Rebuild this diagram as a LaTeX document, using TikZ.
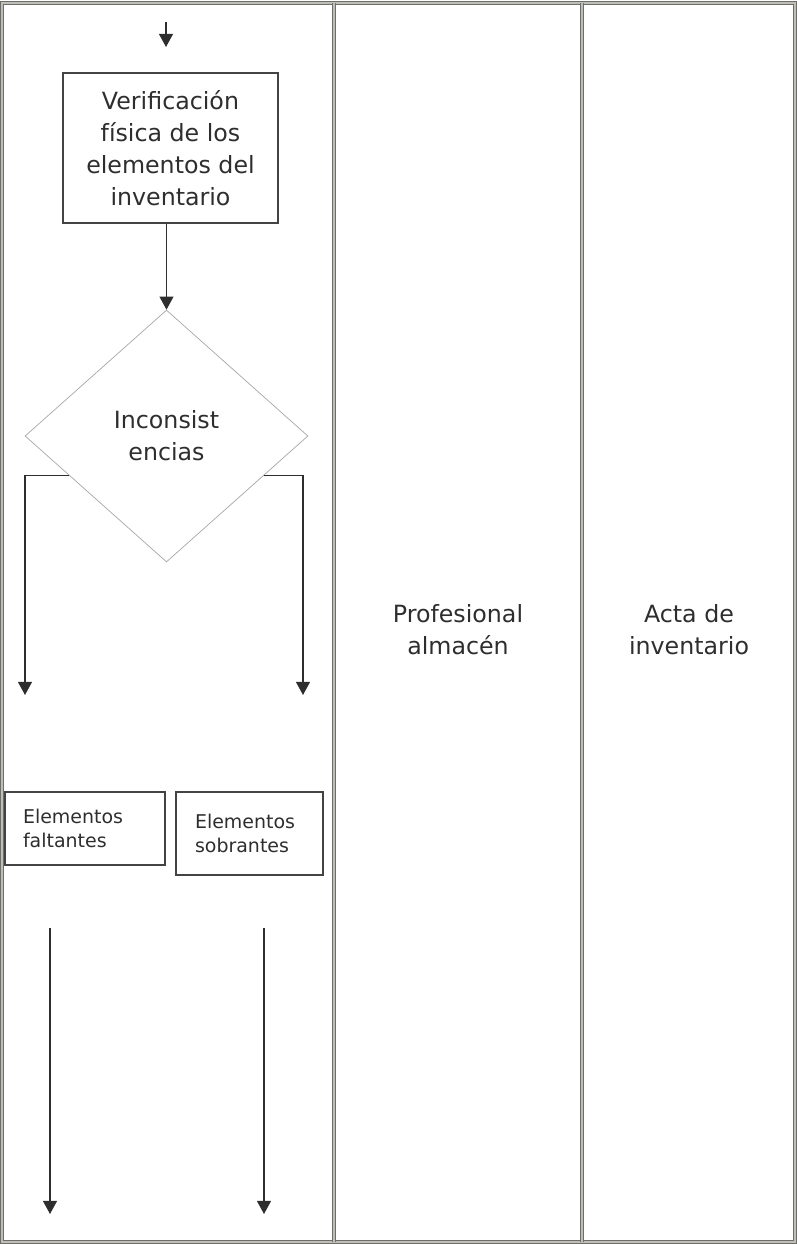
\documentclass[tikz,border=0pt]{standalone}
\usepackage{fontspec}
\setmainfont{DejaVu Sans}
\usetikzlibrary{shapes.geometric,arrows.meta}
\definecolor{ink}{HTML}{2E2E2E}
\definecolor{rule}{HTML}{6E6E66}
\begin{document}
\begin{tikzpicture}[x=0.02cm, y=-0.02cm,
  every node/.style={text=ink},
  big/.style={font=\fontsize{13.5}{18.1}\selectfont},
  small/.style={font=\fontsize{10.8}{13.6}\selectfont},
  box/.style={draw=ink!90, line width=0.6pt},
  arr/.style={draw=ink, line width=0.65pt, -{Triangle[width=8pt,length=7.5pt]}},
  lane/.style={draw=rule, line width=0.6pt, double=rule!45, double distance=0.6pt}]
\useasboundingbox (0,0) rectangle (797,1244);
% lanes
\draw[lane] (2,3) rectangle (795,1242);
\draw[lane] (334,3) -- (334,1242);
\draw[lane] (582,3) -- (582,1242);
% flow
\coordinate (in0) at (166,22);
\coordinate (in1) at (166,47);
\draw[arr] (in0) -- (in1);
\node[big, box, minimum width=4.3cm, minimum height=3cm, align=center] (verif) at (170.5,148) {Verificación\\física de los\\elementos del\\inventario};
\node[big, diamond, draw=gray!70, line width=0.4pt, minimum width=5.66cm, minimum height=5.04cm, inner sep=0pt, align=center] (incons) at (166.5,436) {Inconsist\\encias};
\draw[arr] (verif.south -| incons.north) -- (incons.north);
\coordinate (lfa) at (25,695);
\coordinate (rfa) at (303,695);
\draw[arr] (incons.202) -| (lfa);
\draw[arr] (incons.338) -| (rfa);
\node[small, box, text width=2.48cm, inner xsep=0.36cm, minimum height=1.46cm, align=left] (falt) at (85,828.5) {Elementos\\faltantes};
\node[small, box, text width=2.18cm, inner xsep=0.38cm, minimum height=1.66cm, align=left] (sobr) at (249.5,833.5) {Elementos\\sobrantes};
\coordinate (fa0) at (50,928);
\coordinate (fa1) at (50,1214);
\coordinate (so0) at (264,928);
\coordinate (so1) at (264,1214);
\draw[arr] (fa0) -- (fa1);
\draw[arr] (so0) -- (so1);
% lane labels
\node[big, align=center] (prof) at (458,630) {Profesional\\almacén};
\node[big, align=center] (acta) at (689,630) {Acta de\\inventario};
\end{tikzpicture}
\end{document}
